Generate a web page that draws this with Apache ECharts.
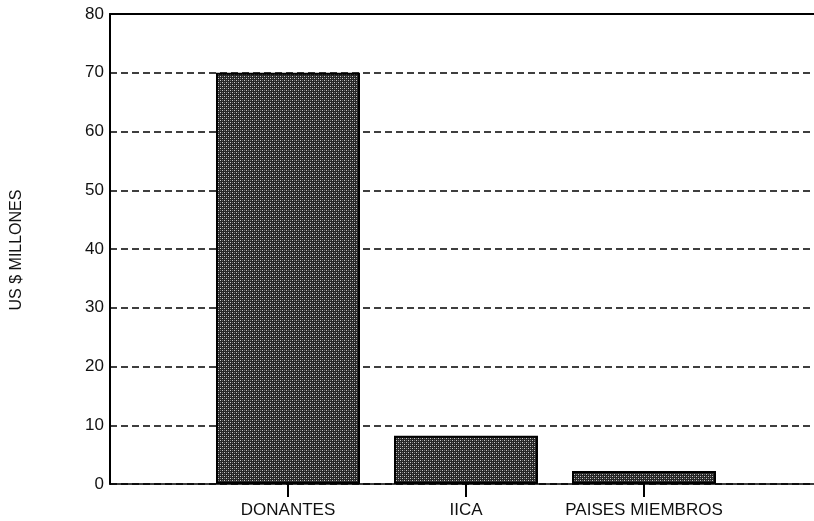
<!DOCTYPE html>
<html><head><meta charset="utf-8">
<script src="https://cdn.jsdelivr.net/npm/echarts@6/dist/echarts.min.js"></script>
<style>html,body{margin:0;padding:0;background:#fff}#c{width:814px;height:521px}</style>
</head><body><div id="c"></div>
<script>
const categories = ['', 'DONANTES', 'IICA', 'PAISES MIEMBROS', ''];
const values = [null, 70, 8.2, 2.2, null];
const yTicks = [0, 10, 20, 30, 40, 50, 60, 70, 80];
const yTitle = 'US $ MILLONES';

function makePattern() {
  const c = document.createElement('canvas');
  c.width = 4; c.height = 4;
  const g = c.getContext('2d');
  g.fillStyle = '#262626'; g.fillRect(0, 0, 4, 4);
  g.fillStyle = '#c8c8c8';
  g.fillRect(0, 0, 1, 1); g.fillRect(2, 2, 1, 1);
  g.fillStyle = '#707070';
  g.fillRect(2, 0, 1, 1); g.fillRect(0, 2, 1, 1);
  return c;
}

const chart = echarts.init(document.getElementById('c'));
chart.setOption({
  animation: false,
  backgroundColor: '#fff',
  grid: { left: 110, top: 14, width: 712, height: 470, outerBoundsMode: 'none', containLabel: false },
  xAxis: [{
    type: 'category', data: categories, boundaryGap: false, position: 'bottom',
    axisLine: { lineStyle: { color: '#000', width: 1.5 } },
    axisTick: { show: true, length: 13, interval: (i, v) => v !== '', lineStyle: { color: '#000', width: 2 } },
    axisLabel: { interval: 0, margin: 18, color: '#111', fontFamily: 'Liberation Sans', fontSize: 17 },
    splitLine: { show: false }
  }, {
    type: 'category', data: categories, boundaryGap: false, position: 'top',
    axisLine: { lineStyle: { color: '#000', width: 2 } },
    axisTick: { show: false }, axisLabel: { show: false }
  }],
  yAxis: {
    type: 'value', min: yTicks[0], max: yTicks[yTicks.length - 1], interval: 10,
    axisLine: { show: true, lineStyle: { color: '#000', width: 2 } },
    axisTick: { show: false },
    axisLabel: { margin: 6, color: '#111', fontFamily: 'Liberation Sans', fontSize: 17 },
    splitLine: { show: true, lineStyle: { color: '#000', width: 1.5, type: [7, 4] } }
  },
  graphic: [{
    type: 'text', x: 17, y: 250, rotation: Math.PI / 2,
    style: { text: yTitle, fill: '#111', font: '16px "Liberation Sans"', align: 'center', verticalAlign: 'middle' }
  }],
  series: [{
    type: 'bar', data: values, barWidth: 144, xAxisIndex: 0,
    itemStyle: { color: { image: makePattern(), repeat: 'repeat' }, borderColor: '#000', borderWidth: 2 }
  }]
});
</script></body></html>
